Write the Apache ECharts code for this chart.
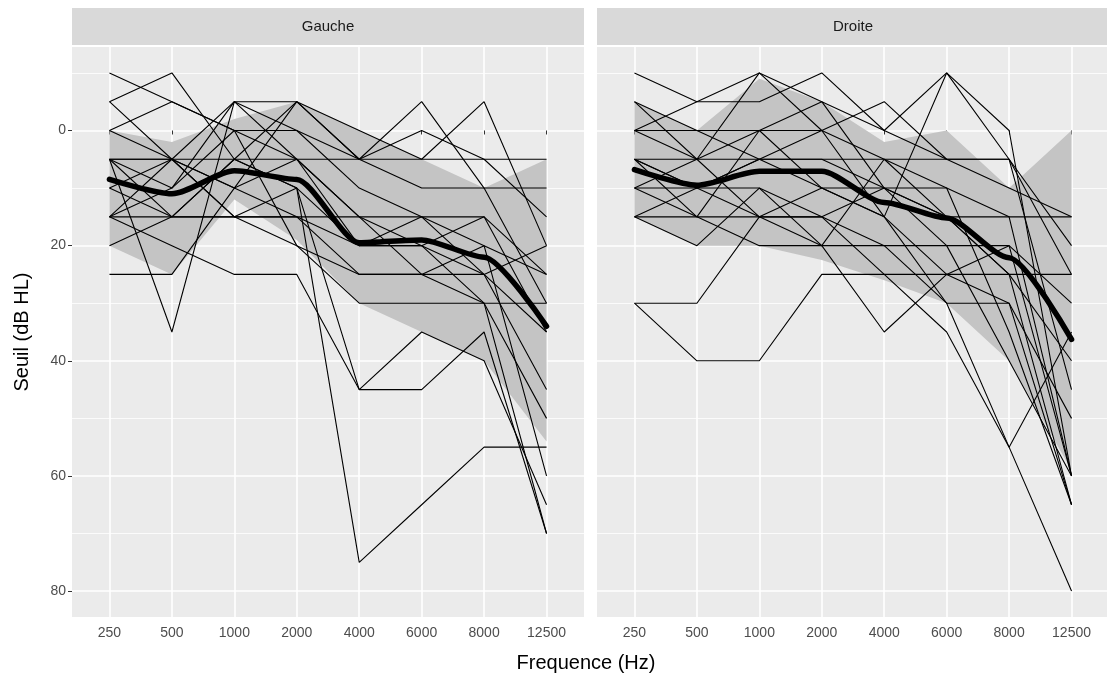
<!DOCTYPE html>
<html>
<head>
<meta charset="utf-8">
<script src="https://cdn.jsdelivr.net/npm/echarts@6/dist/echarts.min.js"></script>
<style>html,body{margin:0;padding:0;background:#fff}#c{width:1107px;height:680px}</style>
</head>
<body>
<div id="c"></div>
<script>
// ---- data ----
const categories = ['250','500','1000','2000','4000','6000','8000','12500'];
const yTicks = [0, 20, 40, 60, 80];

// individual subjects, left ear (Gauche)
const gaucheSubjects = [
  [-10, -5,  0,  0,  5,  0,  5,  5],
  [ -5,-10,  5, -5,  5, -5, 10, 10],
  [ -5,  5, -5, -5,  0,  5, -5, 20],
  [  0, -5,  0,  5, 15, 15, 15, 25],
  [  0,  5, 10,  5,  5, 10, 10, 30],
  [  5, 35, -5,  0, 10, 15, 25, 45],
  [  5,  5,  5,  5, 20, 20, 25, 35],
  [  5, 15, 15, 10, 75, 65, 55, 55],
  [  5,  5, 15, 15, 15, 25, 30, 70],
  [ 10, 15,  5, 10, 45, 45, 35, 70],
  [ 10,  5, 15, 15, 25, 25, 20, 60],
  [ 15, 15, 15, 20, 30, 30, 30, 50],
  [ 15, 20, 25, 25, 45, 35, 40, 65],
  [ 15,  5, 10, -5,  5,  5,  5, 15],
  [ 20, 15,  5, 10, 20, 15, 20, 25],
  [ 25, 25, 10, 15, 20, 20, 15, 35],
  [  5, 10,  0, 20, 25, 25, 25, 20],
  [ 15, 10, -5,  5, 15, 20, 30, 30]
];
const gaucheMean        = [8.5, 11, 7, 8.5, 19.5, 19, 22, 34];
const gaucheRibbonTop   = [0, 2, -2, -5, 0, 5, 10, 5];
const gaucheRibbonBot   = [20, 25, 12, 19, 30, 35, 40, 54];

// individual subjects, right ear (Droite)
const droiteSubjects = [
  [-10, -5,-10, -5,  0,  5, 10, 15],
  [ -5,  0,  0,  0, -5,  5,  5, 20],
  [  0, -5, -5,-10,  0,-10,  0, 60],
  [  0,  5,-10,  0,  5, 10, 15, 60],
  [  5,  5,  5,  5, 10, 15, 25, 65],
  [  5, 15,  0, 10, 15,-10,  5, 25],
  [ 10, 10,  5,  5,  5,  5,  5, 45],
  [ 10, 15, 15, 15, 25, 25, 25, 25],
  [ 15, 15, 20, 20, 35, 25, 30, 65],
  [ 15, 20, 10, 15, 10, 20, 20, 60],
  [ 30, 30, 15, 10, 15, 30, 55, 80],
  [ 30, 40, 40, 25, 25, 35, 55, 35],
  [  5, 10, 10, 20, 20, 30, 30, 50],
  [  0,  0,  5, 10, 10, 10, 35, 65],
  [ -5,  5,  0, -5, 10, 15, 15, 15],
  [ 10,  5, 15, 15, 20, 20, 40, 60],
  [  5, 10,  5,  0, 15, 25, 20, 30],
  [ 15, 10, 15, 20,  5, 15, 25, 40]
];
const droiteMean        = [6.8, 9.5, 7.1, 7.1, 12.5, 15.2, 22.1, 36.3];
const droiteRibbonTop   = [-5, 0, -9, -5, 2, 0, 10, 0];
const droiteRibbonBot   = [15, 20, 20, 22.5, 26, 30, 40, 59];

// ---- layout ----
const FONT = '"Liberation Sans", Arial, sans-serif';
const PANEL_TOP = 47, PANEL_H = 570, PANEL_W = 512;
const Y_MIN = -14.5, Y_MAX = 84.5;
const pxPerUnit = PANEL_H / (Y_MAX - Y_MIN);
const yPix = v => PANEL_TOP + (v - Y_MIN) * pxPerUnit;
const xUnit = PANEL_W / 8.2;

const panels = [
  {name: 'Gauche', left: 72,  subjects: gaucheSubjects, mean: gaucheMean, rTop: gaucheRibbonTop, rBot: gaucheRibbonBot, yLabels: true},
  {name: 'Droite', left: 597, subjects: droiteSubjects, mean: droiteMean, rTop: droiteRibbonTop, rBot: droiteRibbonBot, yLabels: false}
];

const grid = [], xAxis = [], yAxis = [], series = [], graphic = [];
const hiddenX = gi => ({type: 'value', gridIndex: gi, min: 0, max: 1, show: false});

panels.forEach((p, pi) => {
  const base = pi * 4;
  // 0: background
  grid.push({left: p.left, top: PANEL_TOP, width: PANEL_W, height: PANEL_H, show: true, backgroundColor: '#EBEBEB', borderWidth: 0, z: -1});
  xAxis.push(hiddenX(base));
  yAxis.push({type: 'value', gridIndex: base, min: 0, max: 1, show: false});
  // 1: major horizontal grid lines + y labels
  grid.push({left: p.left, top: yPix(0), width: PANEL_W, height: yPix(80) - yPix(0)});
  xAxis.push(hiddenX(base + 1));
  yAxis.push({
    type: 'value', gridIndex: base + 1, inverse: true, min: yTicks[0], max: yTicks[yTicks.length - 1], interval: 20,
    axisLine: {show: false},
    axisTick: {show: p.yLabels, length: 4, lineStyle: {color: '#333333', width: 1}},
    axisLabel: {show: p.yLabels, color: '#4D4D4D', fontSize: 14, fontFamily: FONT, margin: 6},
    splitLine: {show: true, lineStyle: {color: '#FFFFFF', width: 1.6}}
  });
  // 2: minor horizontal grid lines
  grid.push({left: p.left, top: yPix(-10), width: PANEL_W, height: yPix(70) - yPix(-10)});
  xAxis.push(hiddenX(base + 2));
  yAxis.push({
    type: 'value', gridIndex: base + 2, inverse: true, min: -10, max: 70, interval: 20,
    axisLine: {show: false}, axisTick: {show: false}, axisLabel: {show: false},
    splitLine: {show: true, lineStyle: {color: '#FFFFFF', width: 0.8}}
  });
  // 3: data grid
  const dg = base + 3;
  grid.push({left: p.left + 0.6 * xUnit, top: PANEL_TOP, width: 7 * xUnit, height: PANEL_H});
  xAxis.push({
    type: 'value', gridIndex: dg, min: 0, max: 7, interval: 1,
    axisLine: {show: false},
    axisTick: {show: true, length: 4, lineStyle: {color: '#333333', width: 1}},
    axisLabel: {color: '#4D4D4D', fontSize: 14, fontFamily: FONT, margin: 9,
      formatter: v => categories[v] !== undefined ? categories[v] : ''},
    splitLine: {show: true, lineStyle: {color: '#FFFFFF', width: 1.6}}
  });
  yAxis.push({type: 'value', gridIndex: dg, inverse: true, min: Y_MIN, max: Y_MAX, show: false});

  // ribbon (polygon through the axis scales)
  series.push({
    type: 'custom', xAxisIndex: dg, yAxisIndex: dg, silent: true, z: 1, data: [[0, 0]],
    renderItem: (params, api) => {
      const pts = [];
      p.rTop.forEach((v, i) => pts.push(api.coord([i, v])));
      for (let i = p.rBot.length - 1; i >= 0; i--) pts.push(api.coord([i, p.rBot[i]]));
      return {type: 'polygon', shape: {points: pts}, style: {fill: '#C4C4C4'}};
    }
  });
  // subjects
  p.subjects.forEach(s => {
    series.push({
      type: 'line', xAxisIndex: dg, yAxisIndex: dg, silent: true, symbol: 'none',
      lineStyle: {color: '#000000', width: 1.1}, data: s.map((v, i) => [i, v]), z: 3
    });
  });
  // mean
  series.push({
    type: 'line', xAxisIndex: dg, yAxisIndex: dg, silent: true, symbol: 'none', smooth: 0.25, smoothMonotone: 'x',
    lineStyle: {color: '#000000', width: 5.5, cap: 'round', join: 'round'}, data: p.mean.map((v, i) => [i, v]), z: 4
  });

  // strip
  graphic.push({type: 'rect', left: p.left, top: 8, shape: {width: PANEL_W, height: 37}, style: {fill: '#D9D9D9'}, silent: true});
  graphic.push({type: 'text', x: p.left + PANEL_W / 2, y: 27, silent: true,
    style: {text: p.name, fill: '#1A1A1A', font: '15px ' + FONT, textAlign: 'center', textVerticalAlign: 'middle'}});
});

graphic.push({type: 'text', x: 586, y: 663, silent: true,
  style: {text: 'Frequence (Hz)', fill: '#000000', font: '20px ' + FONT, textAlign: 'center', textVerticalAlign: 'middle'}});
graphic.push({type: 'text', x: 22, y: 332, rotation: Math.PI / 2, silent: true,
  style: {text: 'Seuil (dB HL)', fill: '#000000', font: '20px ' + FONT, textAlign: 'center', textVerticalAlign: 'middle'}});

const chart = echarts.init(document.getElementById('c'), null, {renderer: 'canvas'});
chart.setOption({animation: false, backgroundColor: '#FFFFFF', grid, xAxis, yAxis, series, graphic});
</script>
</body>
</html>
